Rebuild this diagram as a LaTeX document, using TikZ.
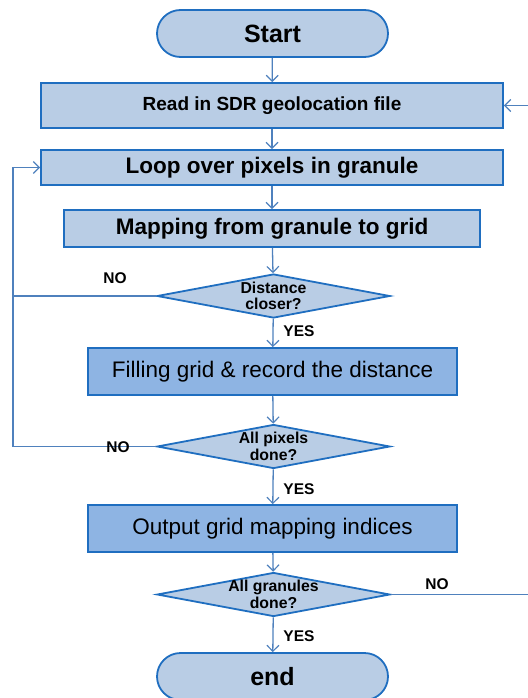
\documentclass[tikz,border=0pt]{standalone}
\usepackage{fontspec}
\setmainfont{Liberation Sans}
\usepackage{tikz}
\usetikzlibrary{arrows.meta,shapes.geometric,shapes.misc}
\definecolor{boxfill}{HTML}{B9CDE5}
\definecolor{darkfill}{HTML}{8EB4E3}
\definecolor{boxline}{HTML}{1F6EC0}
\definecolor{connline}{HTML}{4F81BD}

\begin{document}
\begin{tikzpicture}[x=1pt,y=-1pt,>={Straight Barb[length=6pt,width=12pt,line width=1.2pt]},
    term/.style={rounded rectangle,draw=boxline,fill=boxfill,line width=1.8pt,minimum width=231pt,minimum height=47pt,inner sep=0pt,font=\bfseries\fontsize{25}{28}\selectfont},
    stepbox/.style={rectangle,draw=boxline,fill=boxfill,line width=1.8pt,inner sep=0pt,font=\bfseries\fontsize{22.5}{26}\selectfont},
    dobox/.style={rectangle,draw=boxline,fill=darkfill,line width=1.8pt,inner sep=0pt,minimum width=369pt,minimum height=47pt,font=\fontsize{22.5}{26}\selectfont},
    test/.style={diamond,draw=boxline,fill=boxfill,line width=1.8pt,inner sep=-8pt,shape aspect=5.3,minimum width=233pt,minimum height=44pt,align=center,font=\bfseries\fontsize{15.8}{16.5}\selectfont},
    conn/.style={draw=connline,line width=1.3pt},
    answer/.style={font=\bfseries\fontsize{15.5}{18}\selectfont}]
  \useasboundingbox (0,0) rectangle (527,698);
  \node[term] (start) at (272.5,33.5) {Start};
  \node[stepbox,minimum width=462pt,minimum height=45pt,font=\bfseries\fontsize{19}{22}\selectfont] (read) at (272,105.5) {Read in SDR geolocation file};
  \node[stepbox,minimum width=462pt,minimum height=35pt] (loop) at (272,167.5) {Loop over pixels in granule};
  \node[stepbox,minimum width=416pt,minimum height=37pt] (map) at (272,228.5) {Mapping from granule to grid};
  \node[test] (dist) at (273.5,296) {Distance\\closer?};
  \node[dobox] (fill) at (272.5,371.5) {Filling grid \& record the distance};
  \node[test] (pix) at (273.5,446.5) {All pixels\\done?};
  \node[dobox] (out) at (272.5,528.5) {Output grid mapping indices};
  \node[test] (gran) at (273.5,594.5) {All granules\\done?};
  \node[term] (end) at (272.5,676.5) {end};
  %\node at (272,698) {};
  \coordinate (lft) at (13,0);
  \coordinate (rgt) at (531,0);

  \draw[conn,->] (start) -- (read);
  \draw[conn,->] (read) -- (loop);
  \draw[conn,->] (loop) -- (map);
  \draw[conn,->] (map) -- (dist);
  \draw[conn,->] (dist) -- (fill);
  \draw[conn,->] (fill) -- (pix);
  \draw[conn,->] (pix) -- (out);
  \draw[conn,->] (out) -- (gran);
  \draw[conn,->] (gran) -- (end);
  \draw[conn] (dist.west) -- (dist.west -| lft);
  \draw[conn,->] (pix.west) -- (pix.west -| lft) |- (loop.west);
  \draw[conn,->] (gran.east) -- (gran.east -| rgt) |- (read.east);

  \node[answer] (no1) at (115,278) {NO};
  \node[answer] (yes1) at (299,331) {YES};
  \node[answer] (no2) at (118,447) {NO};
  \node[answer] (yes2) at (299,489) {YES};
  \node[answer] (no3) at (437,584) {NO};
  \node[answer] (yes3) at (299,636) {YES};
\end{tikzpicture}
\end{document}
